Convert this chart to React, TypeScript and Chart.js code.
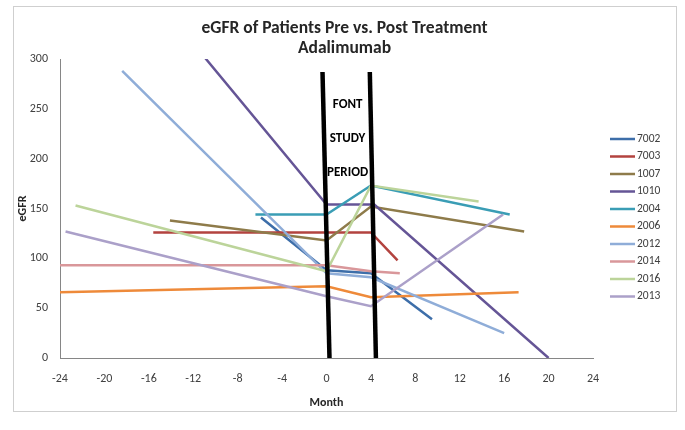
import { useEffect, useRef } from "react";
import { Chart, registerables } from "chart.js";

Chart.register(...registerables);

// ---- data ----
const patientIds = ["7002", "7003", "1007", "1010", "2004", "2006", "2012", "2014", "2016", "2013"];

const months7002 = [-5.9, 0, 4, 9.5];
const egfr7002 = [141, 88, 85, 39];

const months7003 = [-15.6, 0, 4, 6.4];
const egfr7003 = [126, 126, 126, 98];

const months1007 = [-14.1, 0, 4, 17.8];
const egfr1007 = [138, 118, 152, 127];

const months1010 = [-11, 0, 4.3, 20];
const egfr1010 = [302, 154, 154, 0];

const months2004 = [-6.4, 0, 4, 16.5];
const egfr2004 = [144, 144, 173, 144];

const months2006 = [-24, 0, 4, 17.3];
const egfr2006 = [66, 72, 61, 66];

const months2012 = [-18.4, 0, 4, 16];
const egfr2012 = [288, 85, 81, 25];

const months2014 = [-24, 0, 4, 6.6];
const egfr2014 = [93, 93, 87, 85];

const months2016 = [-22.6, 0, 4, 13.7];
const egfr2016 = [153, 87, 173, 157];

const months2013 = [-23.5, 0, 4, 15.9];
const egfr2013 = [127, 62, 52, 144];

const seriesMonths = [months7002, months7003, months1007, months1010, months2004, months2006, months2012, months2014, months2016, months2013];
const seriesEgfr = [egfr7002, egfr7003, egfr1007, egfr1010, egfr2004, egfr2006, egfr2012, egfr2014, egfr2016, egfr2013];
const seriesColors = ["#3D6EA9", "#B3433F", "#8E7B4A", "#655596", "#3A9DB5", "#EE8A3A", "#8FADD8", "#D9979A", "#BCD49A", "#ABA0C9"];

// the two hand-drawn black "study period" lines
const periodStartMonths = [-0.36, 0.27];
const periodStartEgfr = [287, 0];
const periodEndMonths = [3.9, 4.45];
const periodEndEgfr = [287, 0];
const periodWords = ["FONT", "STUDY", "PERIOD"];
const periodWordEgfr = [254, 220, 186];
const periodWordMonth = 1.9;

const xMin = -24;
const xMax = 24;
const xStep = 4;
const yMin = 0;
const yMax = 300;
const yStep = 50;

const titleLines = ["eGFR of Patients Pre vs. Post Treatment", "Adalimumab"];
const xTitle = "Month";
const yTitle = "eGFR";

const FONT = "Carlito, Lato, 'Liberation Sans', sans-serif";

const toPoints = (xs: number[], ys: number[]) => xs.map((x, i) => ({ x, y: ys[i] }));

export default function App() {
  const ref = useRef<HTMLCanvasElement | null>(null);

  useEffect(() => {
    if (!ref.current) return;

    const framePlugin = {
      id: "frame",
      beforeDraw(chart: any) {
        const ctx = chart.ctx;
        ctx.save();
        ctx.fillStyle = "#ffffff";
        ctx.fillRect(0, 0, chart.width, chart.height);
        ctx.strokeStyle = "#cfcfcf";
        ctx.lineWidth = 1;
        ctx.strokeRect(13.5, 6.5, 663, 405);
        ctx.restore();
      },
    };

    const extrasPlugin = {
      id: "extras",
      afterDraw(chart: any) {
        const ctx = chart.ctx;
        const xs = chart.scales.x;
        const ys = chart.scales.y;
        ctx.save();
        // period words
        ctx.fillStyle = "#000000";
        ctx.font = `bold 13px ${FONT}`;
        ctx.textAlign = "center";
        ctx.textBaseline = "middle";
        periodWords.forEach((w, i) => {
          ctx.fillText(w, xs.getPixelForValue(periodWordMonth), ys.getPixelForValue(periodWordEgfr[i]));
        });
        // legend
        ctx.font = `11.5px ${FONT}`;
        ctx.textAlign = "left";
        ctx.fillStyle = "#404040";
        patientIds.forEach((id, i) => {
          const y = 139 + i * 17.5;
          ctx.strokeStyle = seriesColors[i];
          ctx.lineWidth = 2.5;
          ctx.beginPath();
          ctx.moveTo(610, y);
          ctx.lineTo(635, y);
          ctx.stroke();
          ctx.fillText(id, 637, y);
        });
        ctx.restore();
      },
    };

    const datasets: any[] = patientIds.map((id, i) => ({
      label: id,
      data: toPoints(seriesMonths[i], seriesEgfr[i]),
      borderColor: seriesColors[i],
      backgroundColor: seriesColors[i],
      borderWidth: 2.5,
      pointRadius: 0,
      tension: 0,
      fill: false,
      order: patientIds.length - i,
    }));
    datasets.push({
      label: "",
      data: toPoints(periodStartMonths, periodStartEgfr),
      borderColor: "#000000",
      borderWidth: 4.5,
      pointRadius: 0,
      order: -1,
      clip: false,
    });
    datasets.push({
      label: "",
      data: toPoints(periodEndMonths, periodEndEgfr),
      borderColor: "#000000",
      borderWidth: 4.5,
      pointRadius: 0,
      order: -1,
      clip: false,
    });

    const chart = new Chart(ref.current, {
      type: "line",
      data: { datasets },
      options: {
        animation: false,
        responsive: false,
        maintainAspectRatio: false,
        layout: { padding: { left: 13, right: 9, top: 6, bottom: 19 } },
        plugins: {
          legend: { display: false },
          tooltip: { enabled: false },
          title: {
            display: true,
            text: titleLines,
            color: "#262626",
            font: { family: FONT, size: 17.5, weight: "bold", lineHeight: 20 / 17.5 },
            padding: { top: 13, bottom: 0 },
          },
        },
        scales: {
          x: {
            type: "linear",
            min: xMin,
            max: xMax,
            position: "bottom",
            grid: { display: false, drawTicks: false },
            border: { display: true, color: "#868686", width: 1 },
            ticks: {
              stepSize: xStep,
              color: "#404040",
              font: { family: FONT, size: 12 },
              padding: 14,
              maxRotation: 0,
            },
            title: {
              display: true,
              text: xTitle,
              color: "#262626",
              font: { family: FONT, size: 12, weight: "bold" },
              padding: { top: 0, bottom: 1 },
            },
            afterFit: (s: any) => {
              s.height = 53;
            },
          },
          y: {
            type: "linear",
            min: yMin,
            max: yMax,
            position: "left",
            grid: { display: false, drawTicks: false },
            border: { display: true, color: "#868686", width: 1 },
            ticks: {
              stepSize: yStep,
              color: "#404040",
              font: { family: FONT, size: 12 },
              padding: 12,
            },
            title: {
              display: true,
              text: yTitle,
              color: "#262626",
              font: { family: FONT, size: 12, weight: "bold" },
              padding: { top: 3, bottom: 0 },
            },
            afterFit: (s: any) => {
              s.width = 47;
            },
          },
          legendSpace: {
            type: "linear",
            position: "right",
            display: true,
            grid: { display: false, drawTicks: false },
            border: { display: false },
            ticks: { display: false },
            afterFit: (s: any) => {
              s.width = 83;
            },
          },
        },
      } as any,
      plugins: [framePlugin, extrasPlugin],
    });

    return () => chart.destroy();
  }, []);

  return (
    <div style={{ position: "absolute", left: 0, top: 0, width: 685, height: 430 }}>
      <canvas ref={ref} width={685} height={430} style={{ width: 685, height: 430 }} />
    </div>
  );
}
